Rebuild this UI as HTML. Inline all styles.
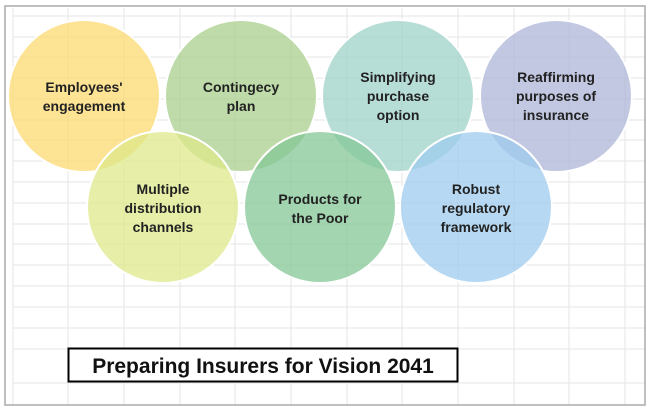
<!DOCTYPE html>
<html><head><style>
body{margin:0;width:650px;height:410px;background:#fff;overflow:hidden}
</style></head><body>
<svg width="650" height="410" xmlns="http://www.w3.org/2000/svg" font-family="Liberation Sans, sans-serif">
<rect x="0" y="0" width="650" height="410" fill="#fff"/>
<g stroke="#e6e6e6" stroke-width="1">
<line x1="13" y1="16" x2="645" y2="16"/><line x1="13" y1="37" x2="645" y2="37"/><line x1="13" y1="57" x2="645" y2="57"/><line x1="13" y1="78" x2="645" y2="78"/><line x1="13" y1="99" x2="645" y2="99"/><line x1="13" y1="120" x2="645" y2="120"/><line x1="13" y1="140" x2="645" y2="140"/><line x1="13" y1="161" x2="645" y2="161"/><line x1="13" y1="182" x2="645" y2="182"/><line x1="13" y1="203" x2="645" y2="203"/><line x1="13" y1="224" x2="645" y2="224"/><line x1="13" y1="244" x2="645" y2="244"/><line x1="13" y1="265" x2="645" y2="265"/><line x1="13" y1="286" x2="645" y2="286"/><line x1="13" y1="307" x2="645" y2="307"/><line x1="13" y1="328" x2="645" y2="328"/><line x1="13" y1="349" x2="645" y2="349"/><line x1="13" y1="383" x2="645" y2="383"/>
<line x1="13" y1="8" x2="13" y2="405"/><line x1="68" y1="8" x2="68" y2="405"/><line x1="124" y1="8" x2="124" y2="405"/><line x1="180" y1="8" x2="180" y2="405"/><line x1="235" y1="8" x2="235" y2="405"/><line x1="291" y1="8" x2="291" y2="405"/><line x1="347" y1="8" x2="347" y2="405"/><line x1="402" y1="8" x2="402" y2="405"/><line x1="458" y1="8" x2="458" y2="405"/><line x1="514" y1="8" x2="514" y2="405"/><line x1="569" y1="8" x2="569" y2="405"/><line x1="625" y1="8" x2="625" y2="405"/>
</g>
<rect x="5" y="6" width="640" height="399" fill="none" stroke="#aaa" stroke-width="1.5"/>
<g stroke="#fff" stroke-width="2" fill-opacity="0.75">
<circle cx="84" cy="96" r="76" fill="#fcd970"/>
<circle cx="241" cy="96" r="76" fill="#a9cf8c"/>
<circle cx="398" cy="96" r="76" fill="#9fd1c9"/>
<circle cx="556" cy="96" r="76" fill="#aeb5d8"/>
<circle cx="163" cy="207" r="76" fill="#dde88a"/>
<circle cx="320" cy="207" r="76" fill="#84c797"/>
<circle cx="476" cy="207" r="76" fill="#9ecbee"/>
</g>
<g font-size="14" font-weight="bold" fill="#222" text-anchor="middle">
<text x="84" y="92">Employees'</text><text x="84" y="111">engagement</text>
<text x="241" y="92">Contingecy</text><text x="241" y="111">plan</text>
<text x="398" y="82">Simplifying</text><text x="398" y="101">purchase</text><text x="398" y="120">option</text>
<text x="556" y="82">Reaffirming</text><text x="556" y="101">purposes of</text><text x="556" y="120">insurance</text>
<text x="163" y="194">Multiple</text><text x="163" y="213">distribution</text><text x="163" y="232">channels</text>
<text x="320" y="204">Products for</text><text x="320" y="223">the Poor</text>
<text x="476" y="194">Robust</text><text x="476" y="213">regulatory</text><text x="476" y="232">framework</text>
</g>
<rect x="68.5" y="348.5" width="389" height="33" fill="#fff" stroke="#000" stroke-width="2"/>
<text x="263" y="373" font-size="21" font-weight="bold" text-anchor="middle" fill="#111">Preparing Insurers for Vision 2041</text>
</svg>
</body></html>
